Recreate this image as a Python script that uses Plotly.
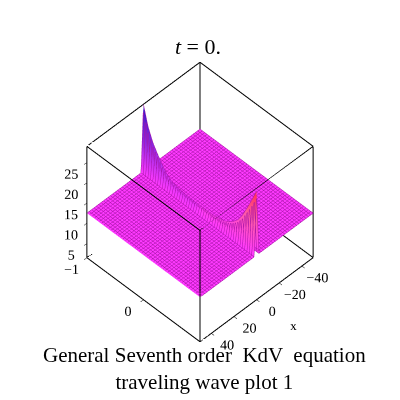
import numpy as np
import plotly.graph_objects as go

# grid of the Maple plot (49 x 49 default grid, here a coarser y sampling)
x_vals = np.linspace(-50, 50, 49)
y_vals = np.linspace(-1, 1, 25)

base_level = 12.5          # flat part of the travelling wave
# height of the crest (at x = 0) for each y row
crest_height = [29.0, 24.3, 21.3, 19.3, 17.5, 16.0, 15.2, 14.8, 14.6, 14.5,
                14.4, 14.4, 14.4, 14.4, 14.4, 14.5, 14.7, 15.0, 15.6, 16.5,
                17.8, 19.8, 22.5, 25.3, 28.4]
crest_col = 24             # index of x = 0

x_range = [-50, 50]
y_range = [-1, 1]
z_range = [1.5, 29]

z = np.full((len(y_vals), len(x_vals)), base_level)
z[:, crest_col] = crest_height

# colour of the crest faces: blue-ish for y < 0, red-ish for y > 0
rise = (z - base_level) / (max(crest_height) - base_level)
shade = rise * np.sign(y_vals)[:, None]

fig = go.Figure(go.Surface(
    x=x_vals, y=y_vals, z=z,
    surfacecolor=shade, cmin=-1, cmax=1,
    colorscale=[[0, '#2a18c8'], [0.25, '#8a28e0'], [0.5, '#ff3aff'],
                [0.75, '#ff5aa8'], [1, '#ff2a48']],
    showscale=False,
    lighting=dict(ambient=1.0, diffuse=0.05, specular=0.0, roughness=1.0, fresnel=0.0),
    contours=dict(
        x=dict(show=True, start=-50, end=50, size=100 / 48, color='#a814a8', width=1),
        y=dict(show=True, start=-1, end=1, size=2 / 48, color='#a814a8', width=1),
    ),
    hoverinfo='skip',
))

# the box frame round the plot
bx, by, bz = [], [], []
for yy in y_range:
    for zz in z_range:
        bx += [x_range[0], x_range[1], None]; by += [yy, yy, None]; bz += [zz, zz, None]
for xx in x_range:
    for zz in z_range:
        bx += [xx, xx, None]; by += [y_range[0], y_range[1], None]; bz += [zz, zz, None]
for xx in x_range:
    for yy in y_range:
        bx += [xx, xx, None]; by += [yy, yy, None]; bz += [z_range[0], z_range[1], None]
fig.add_trace(go.Scatter3d(x=bx, y=by, z=bz, mode='lines',
                           line=dict(color='black', width=2),
                           hoverinfo='skip', showlegend=False))

axis_common = dict(showbackground=False, showgrid=False, zeroline=False,
                   showline=False, ticks='outside', tickcolor='black', ticklen=4,
                   tickangle=0,
                   tickfont=dict(family='Liberation Serif', size=13, color='black'),
                   showspikes=False)

fig.update_layout(
    width=400, height=400,
    margin=dict(l=0, r=0, t=0, b=0),
    paper_bgcolor='white',
    font=dict(family='Liberation Serif', color='black'),
    title=dict(text='<i>t</i> = 0.', x=0.475, y=0.905, xanchor='center', yanchor='middle',
               font=dict(family='Liberation Serif', size=22, color='black')),
    scene=dict(
        domain=dict(x=[0, 0.96], y=[0.116, 0.916]),
        xaxis=dict(axis_common, range=x_range, tickvals=[-40, -20, 0, 20, 40],
                   title=dict(text='x', font=dict(family='Liberation Serif', size=13))),
        yaxis=dict(axis_common, range=y_range, tickvals=[-1, 0],
                   title=dict(text='')),
        zaxis=dict(axis_common, range=z_range, tickvals=[5, 10, 15, 20, 25],
                   title=dict(text='')),
        aspectmode='manual', aspectratio=dict(x=1, y=1, z=1.04),
        camera=dict(eye=dict(x=1.12, y=1.12, z=1.76),
                    up=dict(x=0, y=0, z=1),
                    projection=dict(type='orthographic')),
    ),
    annotations=[dict(text='General Seventh order  KdV  equation<br>traveling wave plot 1',
                      x=0.49, y=0.03, xref='paper', yref='paper',
                      xanchor='center', yanchor='bottom', showarrow=False,
                      font=dict(family='Liberation Serif', size=21, color='black'))],
)

fig.write_html('out.html')
